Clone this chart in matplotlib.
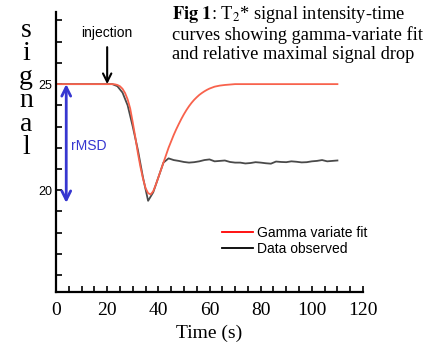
import matplotlib
matplotlib.use("Agg")
import matplotlib.pyplot as plt
from matplotlib.ticker import MultipleLocator, FixedLocator
import numpy as np

# time (s) and signal values
t_obs = [0, 2, 4, 6, 8, 10, 12, 14, 16, 18, 20, 22, 24, 26, 28, 30, 32, 34, 36,
         38, 40, 42, 44, 46, 48, 50, 52, 54, 56, 58, 60, 62, 64, 66, 68, 70, 72,
         74, 76, 78, 80, 82, 84, 86, 88, 90, 92, 94, 96, 98, 100, 102, 104, 106,
         108, 110]
sig_obs = [25.0, 25.0, 25.0, 25.0, 25.0, 25.0, 25.0, 25.0, 25.0, 25.0, 25.0,
           25.0, 24.9, 24.6, 24.0, 23.0, 21.9, 20.6, 19.5, 19.9, 20.6, 21.3,
           21.5, 21.42, 21.38, 21.33, 21.3, 21.32, 21.36, 21.42, 21.45, 21.36,
           21.38, 21.4, 21.33, 21.3, 21.3, 21.26, 21.28, 21.32, 21.3, 21.27,
           21.25, 21.35, 21.33, 21.32, 21.36, 21.34, 21.31, 21.32, 21.36, 21.38,
           21.42, 21.36, 21.38, 21.4]

t_fit = [0, 10, 20, 22, 23, 24, 25, 26, 27, 28, 29, 30, 31, 32, 33, 34, 35, 36,
         37, 38, 39, 40, 41, 42, 43, 44, 45, 46, 47, 48, 49, 50, 51, 52, 53, 54,
         55, 56, 57, 58, 59, 60, 62, 64, 66, 68, 70, 90, 110]
sig_fit = [25.0, 25.0, 25.0, 25.0, 24.99, 24.96, 24.9, 24.78, 24.58, 24.28,
           23.85, 23.2, 22.5, 21.75, 21.1, 20.55, 20.1, 19.86, 19.8, 19.95,
           20.25, 20.6, 20.95, 21.3, 21.65, 22.0, 22.3, 22.6, 22.87, 23.12,
           23.36, 23.58, 23.78, 23.96, 24.12, 24.26, 24.38, 24.49, 24.58, 24.66,
           24.73, 24.79, 24.88, 24.93, 24.96, 24.98, 25.0, 25.0, 25.0]

baseline = 25.0
min_signal = 19.4
t_injection = 20

serif = "Liberation Serif"
sans = "Liberation Sans"
plt.rcParams["mathtext.fontset"] = "stix"

fig = plt.figure(figsize=(4.43, 3.45), dpi=100)
ax = fig.add_axes([56 / 443, 1 - 292 / 345, (363 - 56) / 443, (292 - 12) / 345])

ax.plot(t_obs, sig_obs, color="#4a4a4a", lw=1.3, label="Data observed")
ax.plot(t_fit, sig_fit, color="#f8624c", lw=1.3, label="Gamma variate fit")

ax.set_xlim(0, 120)
ax.set_ylim(15.2, 28.4)

for s in ["top", "right"]:
    ax.spines[s].set_visible(False)
for s in ["left", "bottom"]:
    ax.spines[s].set_linewidth(1.6)

ax.xaxis.set_major_locator(MultipleLocator(20))
ax.xaxis.set_minor_locator(MultipleLocator(5))
ax.yaxis.set_major_locator(FixedLocator([20, 25]))
ax.yaxis.set_minor_locator(MultipleLocator(1))
ax.tick_params(axis="both", which="both", direction="in", length=4, width=1.2)
ax.tick_params(axis="x", pad=7)
ax.tick_params(axis="y", pad=3)
for lab in ax.get_xticklabels():
    lab.set_fontfamily(serif)
    lab.set_fontsize(14)
for lab in ax.get_yticklabels():
    lab.set_fontfamily(sans)
    lab.set_fontsize(9)

ax.set_xlabel("Time (s)", fontfamily=serif, fontsize=14, labelpad=4)

# vertical "signal" label
fig.text(26 / 443, 1 - 18 / 345, "\n".join("signal"), fontfamily=serif,
         fontsize=20, ha="center", va="top", linespacing=0.92,
         multialignment="center")

# injection arrow
ax.annotate("injection", xy=(t_injection, baseline), xytext=(t_injection, 27.4),
            ha="center", va="center", fontfamily=sans, fontsize=10,
            arrowprops=dict(arrowstyle="->", color="black", lw=1.5,
                            shrinkA=3, shrinkB=0, mutation_scale=15))

# rMSD double arrow
ax.annotate("", xy=(4, min_signal), xytext=(4, baseline),
            arrowprops=dict(arrowstyle="<->", color="#3636d0", lw=2,
                            shrinkA=0, shrinkB=0, mutation_scale=16))
ax.text(5.8, 22.1, "rMSD", color="#3636d0", fontfamily=sans, fontsize=10,
        ha="left", va="center")

# caption text
fig.text(172 / 443, 1 - 4 / 345,
         r"$\mathbf{Fig\ 1}$: T$_2$* signal intensity-time" "\n"
         "curves showing gamma-variate fit\n"
         "and relative maximal signal drop",
         fontfamily=serif, fontsize=13.2, ha="left", va="top", linespacing=1.1)

handles, labels = ax.get_legend_handles_labels()
leg = ax.legend(handles[::-1], labels[::-1], loc="upper left",
                bbox_to_anchor=(222 / 443, 1 - 226 / 345),
                bbox_transform=fig.transFigure, frameon=False, borderpad=0,
                borderaxespad=0, handlelength=2.2, handletextpad=0.3,
                labelspacing=0.15, prop={"family": sans, "size": 10})
leg.get_lines()[0].set_color("red")
leg.get_lines()[1].set_color("black")

fig.savefig("out.png", dpi=100)
